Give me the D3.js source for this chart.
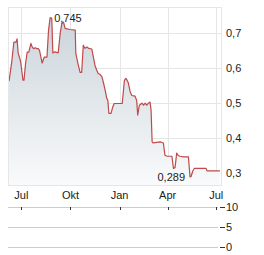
<!DOCTYPE html>
<html>
<head>
<meta charset="utf-8">
<script src="https://cdn.jsdelivr.net/npm/d3@7"></script>
<style>
  body { margin: 0; background: #fff; }
  text { font-family: "Liberation Sans", Arial, sans-serif; font-size: 11px; fill: #222; }
</style>
</head>
<body>
<div id="canvas"></div>
<script>
"use strict"

/* Data: price series */
let dates = ["2024-06-08","2024-06-13","2024-06-17","2024-06-21","2024-06-23","2024-06-25","2024-06-29","2024-06-30",
  "2024-07-04","2024-07-06","2024-07-09","2024-07-12","2024-07-15","2024-07-19","2024-07-21","2024-07-24","2024-07-27","2024-07-30",
  "2024-08-02","2024-08-04","2024-08-09","2024-08-13","2024-08-18","2024-08-21","2024-08-24","2024-08-27","2024-08-29",
  "2024-09-02","2024-09-08","2024-09-12","2024-09-15","2024-09-18","2024-09-21","2024-09-30",
  "2024-10-10","2024-10-11","2024-10-15","2024-10-19","2024-10-22","2024-10-25","2024-10-28",
  "2024-11-01","2024-11-04","2024-11-10","2024-11-13","2024-11-16","2024-11-19","2024-11-22","2024-11-25","2024-11-29",
  "2024-12-02","2024-12-05","2024-12-08","2024-12-10","2024-12-12","2024-12-16","2024-12-19","2024-12-22",
  "2025-01-06","2025-01-10","2025-01-13","2025-01-17","2025-01-21","2025-01-24","2025-01-30",
  "2025-02-02","2025-02-04","2025-02-07","2025-02-12","2025-02-15","2025-02-18","2025-02-21","2025-02-24","2025-02-27",
  "2025-03-01","2025-03-03","2025-03-05","2025-03-18","2025-03-24","2025-03-27","2025-03-31",
  "2025-04-09","2025-04-12","2025-04-15","2025-04-18","2025-04-21","2025-04-24",
  "2025-05-01","2025-05-10","2025-05-13","2025-05-15","2025-05-18","2025-05-21",
  "2025-06-12","2025-06-14","2025-07-08"];
let prices = [0.563,0.618,0.675,0.675,0.684,0.644,0.623,0.615,
  0.566,0.566,0.615,0.646,0.646,0.671,0.662,0.656,0.659,0.656,
  0.656,0.651,0.615,0.632,0.632,0.710,0.745,0.743,0.644,
  0.647,0.644,0.703,0.729,0.732,0.714,0.711,
  0.709,0.643,0.614,0.588,0.588,0.666,0.657,
  0.661,0.657,0.655,0.631,0.608,0.595,0.585,0.583,0.575,
  0.557,0.537,0.514,0.508,0.471,0.471,0.488,0.499,
  0.499,0.565,0.571,0.560,0.532,0.522,0.520,
  0.508,0.466,0.494,0.500,0.494,0.500,0.494,0.500,0.503,
  0.480,0.389,0.386,0.389,0.386,0.351,0.348,
  0.348,0.313,0.316,0.357,0.350,0.348,
  0.346,0.346,0.289,0.290,0.305,0.313,
  0.313,0.306,0.306];

let monthTicks = ["2024-07-01","2024-10-01","2025-01-01","2025-04-01","2025-07-01"];
let monthLabels = ["Jul","Okt","Jan","Apr","Jul"];
let priceTicks = [0.3, 0.4, 0.5, 0.6, 0.7];
let volumeTicks = [0, 5, 10];
let maxLabel = "0,745";
let minLabel = "0,289";

/* Drawing dimensions */
let svgWidth = 264;
let svgHeight = 255;
let plotLeft = 8, plotRight = 221, plotTop = 7, plotBottom = 185;
let volTop = 207, volBottom = 247;

let parse = d3.timeParse("%Y-%m-%d");
let series = dates.map(function (d, i) {
  return { date: parse(d), value: prices[i] };
});

let svg = d3.select("#canvas")
  .append("svg")
  .attr("width", svgWidth)
  .attr("height", svgHeight);

/* Scales */
let xScale = d3.scaleTime()
  .domain([parse("2024-06-06"), parse("2025-07-10")])
  .range([plotLeft, plotRight]);

let yScale = d3.scaleLinear()
  .domain([0.2656, 0.7754])
  .range([plotBottom, plotTop]);

let vScale = d3.scaleLinear()
  .domain([0, 10])
  .range([volBottom, volTop]);

/* Gradient for the area */
let grad = svg.append("defs").append("linearGradient")
  .attr("id", "fillGrad")
  .attr("gradientUnits", "userSpaceOnUse")
  .attr("x1", 0).attr("y1", plotTop)
  .attr("x2", 0).attr("y2", plotBottom);
grad.append("stop").attr("offset", "0%").attr("stop-color", "#c8d2d9");
grad.append("stop").attr("offset", "100%").attr("stop-color", "#f9fafb");

/* Grid */
svg.append("g").selectAll("line")
  .data(priceTicks)
  .join("line")
  .attr("x1", plotLeft).attr("x2", plotRight)
  .attr("y1", d => Math.round(yScale(d)) + 0.5)
  .attr("y2", d => Math.round(yScale(d)) + 0.5)
  .attr("stroke", "#e6e6e6");

svg.append("g").selectAll("line")
  .data(monthTicks)
  .join("line")
  .attr("x1", d => Math.round(xScale(parse(d))) + 0.5)
  .attr("x2", d => Math.round(xScale(parse(d))) + 0.5)
  .attr("y1", plotTop).attr("y2", plotBottom)
  .attr("stroke", "#e6e6e6");

/* Area + line */
let area = d3.area()
  .x(d => xScale(d.date))
  .y0(plotBottom)
  .y1(d => yScale(d.value));

svg.append("path")
  .datum(series)
  .attr("d", area)
  .attr("fill", "url(#fillGrad)");

let line = d3.line()
  .x(d => xScale(d.date))
  .y(d => yScale(d.value));

svg.append("path")
  .datum(series)
  .attr("d", line)
  .attr("fill", "none")
  .attr("stroke", "#c0494a")
  .attr("stroke-width", 1.2)
  .attr("stroke-linejoin", "round");

/* Plot border */
svg.append("rect")
  .attr("x", plotLeft + 0.5).attr("y", plotTop + 0.5)
  .attr("width", plotRight - plotLeft).attr("height", plotBottom - plotTop)
  .attr("fill", "none")
  .attr("stroke", "#e6e6e6");

/* Y labels */
svg.append("g").selectAll("text")
  .data(priceTicks)
  .join("text")
  .attr("x", plotRight + 5)
  .attr("y", d => yScale(d) + 4)
  .text(d => d3.format(".1f")(d).replace(".", ","));

/* X labels */
svg.append("g").selectAll("text")
  .data(monthTicks)
  .join("text")
  .attr("x", d => xScale(parse(d)))
  .attr("y", 199)
  .attr("text-anchor", "middle")
  .text((d, i) => monthLabels[i]);

/* Min / max labels */
let maxPt = series[d3.maxIndex(series, d => d.value)];
let minPt = series[d3.minIndex(series, d => d.value)];
svg.append("text")
  .attr("x", xScale(maxPt.date) + 4)
  .attr("y", yScale(maxPt.value) + 4)
  .text(maxLabel);
svg.append("text")
  .attr("x", xScale(minPt.date) - 5)
  .attr("y", yScale(minPt.value) + 4)
  .attr("text-anchor", "end")
  .text(minLabel);

/* Volume panel */
svg.append("g").selectAll("line")
  .data(volumeTicks)
  .join("line")
  .attr("x1", plotLeft).attr("x2", 218)
  .attr("y1", d => Math.round(vScale(d)) + 0.5)
  .attr("y2", d => Math.round(vScale(d)) + 0.5)
  .attr("stroke", "#cccccc");

svg.append("g").selectAll("line")
  .data(volumeTicks)
  .join("line")
  .attr("x1", 220).attr("x2", 225)
  .attr("y1", d => Math.round(vScale(d)) + 0.5)
  .attr("y2", d => Math.round(vScale(d)) + 0.5)
  .attr("stroke", "#333");

svg.append("g").selectAll("text")
  .data(volumeTicks)
  .join("text")
  .attr("x", 226)
  .attr("y", d => vScale(d) + 4)
  .text(d => d);

svg.append("g").selectAll("line")
  .data(monthTicks)
  .join("line")
  .attr("x1", d => Math.round(xScale(parse(d))) + 0.5)
  .attr("x2", d => Math.round(xScale(parse(d))) + 0.5)
  .attr("y1", volTop).attr("y2", volTop + 3)
  .attr("stroke", "#333");
</script>
</body>
</html>
